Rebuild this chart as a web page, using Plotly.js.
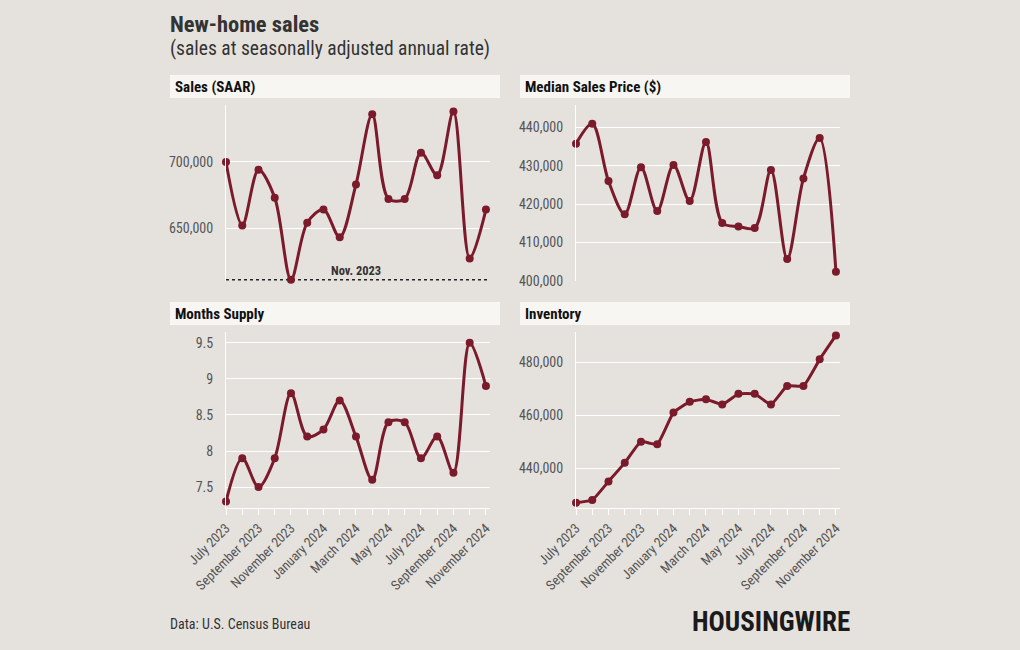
<!DOCTYPE html>
<html>
<head>
<meta charset="utf-8">
<script src="https://cdn.plot.ly/plotly-3.0.1.min.js"></script>
<style>
  html, body { margin: 0; padding: 0; background: #e5e2de; }
  #chart { width: 1020px; height: 650px; }
</style>
</head>
<body>
<div id="chart"></div>
<script>
// ---- Data ----
const months = ['July 2023','August 2023','September 2023','October 2023','November 2023','December 2023',
  'January 2024','February 2024','March 2024','April 2024','May 2024','June 2024',
  'July 2024','August 2024','September 2024','October 2024','November 2024'];
const sales = [700000,652000,694000,673000,611000,654000,664000,643000,683000,736000,672000,672000,707000,690000,738000,627000,664000];
const medianPrice = [435700,440900,426000,417400,429600,418200,430200,420800,436200,415100,414200,413800,428900,405700,426700,437200,402400];
const monthsSupply = [7.3,7.9,7.5,7.9,8.8,8.2,8.3,8.7,8.2,7.6,8.4,8.4,7.9,8.2,7.7,9.5,8.9];
const inventory = [427000,428000,435000,442000,450000,449000,461000,465000,466000,464000,468000,468000,464000,471000,471000,481000,490000];
const panelTitles = ['Sales (SAAR)','Median Sales Price ($)','Months Supply','Inventory'];
const lowLabel = 'Nov. 2023';
const lowIndex = 4;

const FONT = '"Roboto Condensed", "Liberation Sans Narrow", "DejaVu Sans Condensed", sans-serif';
const LINE = '#7a1a2b';
const BG = '#e5e2de';
const xs = months.map((_, i) => i);
const tickText = months.map((m, i) => (i % 2 === 0 ? m : ''));

function trace(y, xa, ya, smoothing) {
  return {
    x: xs, y: y, xaxis: xa, yaxis: ya,
    type: 'scatter', mode: 'lines+markers',
    line: { color: LINE, width: 3, shape: 'spline', smoothing: smoothing },
    marker: { color: LINE, size: 8 },
    hoverinfo: 'skip', showlegend: false, cliponaxis: false
  };
}

const data = [
  trace(sales, 'x', 'y', 0.9),
  trace(medianPrice, 'x2', 'y2', 0.9),
  trace(monthsSupply, 'x3', 'y3', 0.9),
  trace(inventory, 'x4', 'y4', 0.4)
];

const colL = [226/1020, 490/1020];
const colR = [576/1020, 840/1020];
const rowT = [1 - 281/650, 1 - 105/650];
const rowB = [1 - 508/650, 1 - 332/650];

function xaxis(domain, anchor, showLabels) {
  return {
    domain: domain, anchor: anchor, range: [0, 16.25],
    showgrid: false, zeroline: false, fixedrange: true,
    tickmode: 'array', tickvals: xs, ticktext: showLabels ? tickText : xs.map(() => ''),
    ticks: showLabels ? 'outside' : '', ticklen: 6, tickcolor: '#ffffff', tickwidth: 1,
    showline: showLabels, linecolor: '#ffffff', linewidth: 1,
    showticklabels: showLabels, tickangle: -45,
    tickfont: { family: FONT, size: 13.5, color: '#555555' }
  };
}
function yaxis(domain, anchor, range, dtick, fmt) {
  return {
    domain: domain, anchor: anchor, range: range, dtick: dtick, tickformat: fmt,
    showgrid: true, gridcolor: '#ffffff', gridwidth: 1, zeroline: false, fixedrange: true,
    showline: true, linecolor: '#ffffff', linewidth: 1,
    ticks: '', ticklabelstandoff: 9,
    tickfont: { family: FONT, size: 14, color: '#555555' }
  };
}

const headers = [
  { x0: 170, x1: 500, y0: 75, y1: 98 },
  { x0: 520, x1: 850, y0: 75, y1: 98 },
  { x0: 170, x1: 500, y0: 302, y1: 325 },
  { x0: 520, x1: 850, y0: 302, y1: 325 }
];

const shapes = headers.map(h => ({
  type: 'rect', xref: 'paper', yref: 'paper', layer: 'below',
  x0: h.x0/1020, x1: h.x1/1020, y0: 1 - h.y1/650, y1: 1 - h.y0/650,
  fillcolor: '#f7f6f3', line: { width: 0 }
}));
shapes.push({
  type: 'line', xref: 'x domain', yref: 'y', x0: 0, x1: 0.995,
  y0: sales[lowIndex], y1: sales[lowIndex],
  line: { color: '#222222', width: 1.6, dash: 'dot' }, layer: 'below'
});

const annotations = headers.map((h, i) => ({
  xref: 'paper', yref: 'paper', x: (h.x0 + 3)/1020, y: 1 - (h.y0 + h.y1)/2/650,
  xanchor: 'left', yanchor: 'middle', showarrow: false,
  text: '<b>' + panelTitles[i] + '</b>',
  font: { family: FONT, size: 15, color: '#111111' }
}));
annotations.push(
  { xref: 'x', yref: 'y', x: 8, y: sales[lowIndex], yanchor: 'bottom', xanchor: 'center',
    yshift: 0, showarrow: false, text: '<b>' + lowLabel + '</b>',
    font: { family: FONT, size: 12.5, color: '#333333' } },
  { xref: 'paper', yref: 'paper', x: 168/1020, y: 1 - 24/650, xanchor: 'left', yanchor: 'middle',
    showarrow: false, text: '<b>New-home sales</b>', font: { family: FONT, size: 22.5, color: '#333333' } },
  { xref: 'paper', yref: 'paper', x: 168/1020, y: 1 - 48/650, xanchor: 'left', yanchor: 'middle',
    showarrow: false, text: '(sales at seasonally adjusted annual rate)', font: { family: FONT, size: 19.5, color: '#333333' } },
  { xref: 'paper', yref: 'paper', x: 168/1020, y: 1 - 624/650, xanchor: 'left', yanchor: 'middle',
    showarrow: false, text: 'Data: U.S. Census Bureau', font: { family: FONT, size: 14, color: '#333333' } },
  { xref: 'paper', yref: 'paper', x: 852/1020, y: 1 - 622/650, xanchor: 'right', yanchor: 'middle',
    showarrow: false, text: '<b>HOUSINGWIRE</b>', font: { family: FONT, size: 27, weight: 900, color: '#1a1a1a' } }
);

const layout = {
  width: 1020, height: 650,
  paper_bgcolor: BG, plot_bgcolor: BG,
  margin: { l: 0, r: 0, t: 0, b: 0 },
  font: { family: FONT },
  xaxis: xaxis(colL, 'y', false),
  yaxis: yaxis(rowT, 'x', [610000, 743000], 50000, ',d'),
  xaxis2: xaxis(colR, 'y2', false),
  yaxis2: yaxis(rowT, 'x2', [400000, 445800], 10000, ',d'),
  xaxis3: xaxis(colL, 'y3', true),
  yaxis3: yaxis(rowB, 'x3', [7.21, 9.65], 0.5, ''),
  xaxis4: xaxis(colR, 'y4', true),
  yaxis4: yaxis(rowB, 'x4', [425000, 491300], 20000, ',d'),
  shapes: shapes,
  annotations: annotations
};

Plotly.newPlot('chart', data, layout, { displayModeBar: false, staticPlot: true });
</script>
</body>
</html>
